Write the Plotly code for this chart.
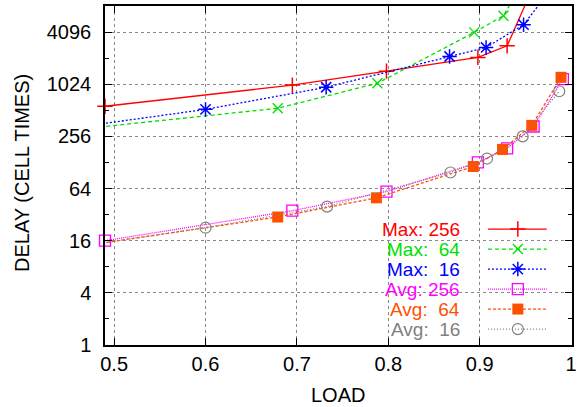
import math
import plotly.graph_objects as go

# ---- data ----
load_max256 = [0.49, 0.695, 0.798, 0.898, 0.930, 0.959]
max256 = [570, 1000, 1450, 2090, 2840, 14000]

load_max64 = [0.40, 0.679, 0.788, 0.894, 0.926, 0.957]
max64 = [265, 540, 1050, 4060, 6330, 23000]

load_max16 = [0.40, 0.600, 0.732, 0.867, 0.907, 0.948, 0.987]
max16 = [267, 525, 945, 2140, 2720, 4980, 17000]

load_avg256 = [0.49, 0.695, 0.798, 0.898, 0.930, 0.959, 0.991]
avg256 = [16, 35.5, 59, 128, 186, 333, 1170]

load_avg64 = [0.40, 0.679, 0.787, 0.893, 0.925, 0.957, 0.989]
avg64 = [11, 30, 50, 115, 181, 343, 1230]

load_avg16 = [0.40, 0.600, 0.733, 0.868, 0.908, 0.947, 0.987]
avg16 = [11, 22.6, 39.6, 98, 142, 256, 850]

legend_labels = ["Max: 256", "Max: \u00a064", "Max: \u00a016",
                 "Avg: 256", "Avg: \u00a064", "Avg: \u00a016"]

y_ticks = [1, 4, 16, 64, 256, 1024, 4096]
y_minor = [2, 8, 32, 128, 512, 2048, 8192]
x_ticks = [0.5, 0.6, 0.7, 0.8, 0.9, 1.0]
x_tick_text = ["0.5", "0.6", "0.7", "0.8", "0.9", "1"]

X_RANGE = [0.49, 1.001]
Y_RANGE = [1, 8192]

series = [
    (load_max256, max256, "#ff0000", "solid", "cross-thin", 11, 1.5),
    (load_max64, max64, "#00e000", "4px,3px", "x-thin", 10, 1.3),
    (load_max16, max16, "#0000ff", "2px,2px", "asterisk", 12, 1.5),
    (load_avg256, avg256, "#ff00ff", "1px,1px", "square-open", 11, 1.3),
    (load_avg64, avg64, "#ff5000", "3px,2px", "square", 11, 0),
    (load_avg16, avg16, "#808080", "1px,2px", "circle-open", 11, 1.2),
]

FONT = "Liberation Sans, Arial, Helvetica, sans-serif"

fig = go.Figure()

for xs, ys, col, dash, sym, size, lw in series:
    fig.add_trace(go.Scatter(
        x=xs, y=ys, mode="lines",
        line=dict(color=col, width=1.3, dash=dash),
        showlegend=False, hoverinfo="skip"))
    keep = [(x, y) for x, y in zip(xs, ys)
            if X_RANGE[0] - 1e-9 <= x <= X_RANGE[1] and Y_RANGE[0] <= y <= Y_RANGE[1]]
    mk = dict(symbol=sym, size=size, color=col)
    if lw:
        mk["line"] = dict(color=col, width=lw)
    fig.add_trace(go.Scatter(
        x=[p[0] for p in keep], y=[p[1] for p in keep], mode="markers",
        marker=mk, cliponaxis=False, showlegend=False))

# ---- gnuplot-style key (text left of sample) on an overlay axis ----
key_text_x = 0.7645
key_line_x = [0.820, 0.946]
key_mark_x = 0.884
key_rows = [0.342, 0.283, 0.224, 0.165, 0.106, 0.047]

for (xs, ys, col, dash, sym, size, lw), lab, ky in zip(series, legend_labels, key_rows):
    fig.add_trace(go.Scatter(
        x=key_line_x, y=[ky, ky], mode="lines", xaxis="x2", yaxis="y2",
        line=dict(color=col, width=1.3, dash=dash),
        showlegend=False, hoverinfo="skip"))
    mk = dict(symbol=sym, size=size, color=col)
    if lw:
        mk["line"] = dict(color=col, width=lw)
    fig.add_trace(go.Scatter(
        x=[key_mark_x], y=[ky], mode="markers", xaxis="x2", yaxis="y2",
        marker=mk, showlegend=False, hoverinfo="skip"))
    fig.add_annotation(
        x=key_text_x, y=ky, xref="paper", yref="paper", text=lab,
        showarrow=False, xanchor="right", yanchor="middle",
        font=dict(family=FONT, size=19, color=col))

# x-axis title placed as paper annotation (keeps plot area fixed)
fig.add_annotation(
    x=(338 - 105) / 467, y=(345 - 395) / 339, xref="paper", yref="paper",
    text="LOAD", showarrow=False, xanchor="center", yanchor="middle",
    font=dict(family=FONT, size=20, color="black"))

fig.update_layout(
    width=581, height=407,
    margin=dict(l=105, r=9, t=6, b=62),
    paper_bgcolor="white", plot_bgcolor="white",
    font=dict(family=FONT, size=20, color="black"),
    showlegend=False,
    xaxis=dict(
        range=X_RANGE, tickvals=x_ticks, ticktext=x_tick_text,
        ticks="inside", ticklen=7, tickcolor="black",
        showline=True, linecolor="black", linewidth=1.5, mirror="ticks",
        showgrid=True, gridcolor="#888888", griddash="dot", gridwidth=1,
        zeroline=False, automargin=False,
        tickfont=dict(size=20),
    ),
    yaxis=dict(
        type="log", range=[0, math.log10(8192)],
        tickvals=y_ticks, ticktext=[str(v) for v in y_ticks],
        ticks="inside", ticklen=7, tickcolor="black",
        showline=True, linecolor="black", linewidth=1.5, mirror="ticks",
        showgrid=True, gridcolor="#888888", griddash="dot", gridwidth=1,
        zeroline=False, automargin=False,
        minor=dict(tickvals=y_minor, ticks="inside", ticklen=4,
                   tickcolor="black", showgrid=False),
        tickfont=dict(size=20),
        ticklabelstandoff=8,
    ),
    xaxis2=dict(overlaying="x", range=[0, 1], visible=False),
    yaxis2=dict(overlaying="y", range=[0, 1], visible=False),
)

# y-axis title as rotated paper annotation
fig.add_annotation(
    x=(22 - 105) / 467, y=(345 - 173) / 339, xref="paper", yref="paper",
    text="DELAY (CELL TIMES)", showarrow=False, textangle=-90,
    xanchor="center", yanchor="middle",
    font=dict(family=FONT, size=20, color="black"))

fig.write_html("out.html")
